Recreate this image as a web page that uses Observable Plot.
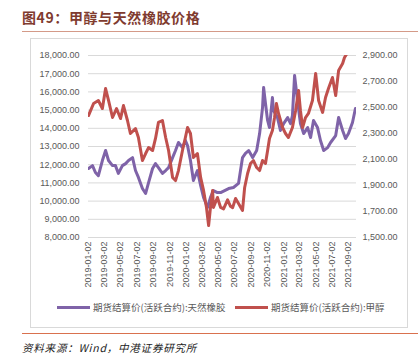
<!DOCTYPE html>
<html><head><meta charset="utf-8">
<script src="https://cdn.jsdelivr.net/npm/d3@7"></script>
<script src="https://cdn.jsdelivr.net/npm/@observablehq/plot@0.6"></script>
<style>
body{margin:0;background:#fff;}
#wrap{position:relative;width:420px;height:361px;overflow:hidden;font-family:"Liberation Sans",Arial,sans-serif;}
#title{position:absolute;left:22px;top:7px;font-weight:bold;font-size:14px;font-family:"Noto Sans CJK SC",sans-serif;color:#7F3B2F;letter-spacing:0.6px;white-space:nowrap;}
#tline{position:absolute;left:22px;top:31px;width:396px;height:0;border-top:1.5px solid #D49A88;}
#box{position:absolute;left:30px;top:38px;width:378px;height:290px;border:1px solid #D9D9D9;box-sizing:border-box;}
#chart{position:absolute;left:0;top:40px;}
#legend{position:absolute;left:0;top:299px;width:420px;height:16px;}
.item{position:absolute;top:0;height:16px;display:flex;align-items:center;white-space:nowrap;font-family:"Noto Sans CJK SC",sans-serif;font-size:9.5px;color:#595959;}
.sw{display:inline-block;width:33px;height:3px;margin-right:3px;}
#cline{position:absolute;left:22px;top:333px;width:396px;height:0;border-top:1.5px solid #D9714E;}
#caption{position:absolute;left:22px;top:340px;font-style:italic;font-size:10.5px;font-family:"Noto Sans CJK SC",sans-serif;color:#222;letter-spacing:0.8px;white-space:nowrap;}
</style>
</head><body>
<div id="wrap">
  <div id="title"></div>
  <div id="tline"></div>
  <div id="box"></div>
  <div id="chart"></div>
  <div id="legend"></div>
  <div id="cline"></div>
  <div id="caption"></div>
</div>
<script>
const titleText = "图49：甲醇与天然橡胶价格";
const captionText = "资料来源：Wind，中港证券研究所";
const seriesNames = ["期货结算价(活跃合约):天然橡胶", "期货结算价(活跃合约):甲醇"];
const seriesColors = ["#7F63A8", "#C0504D"];

const leftTicks = [8000, 9000, 10000, 11000, 12000, 13000, 14000, 15000, 16000, 17000, 18000];
const rightTicks = [1500, 1700, 1900, 2100, 2300, 2500, 2700, 2900];
const xTickLabels = ["2019-01-02","2019-03-02","2019-05-02","2019-07-02","2019-09-02","2019-11-02",
  "2020-01-02","2020-03-02","2020-05-02","2020-07-02","2020-09-02","2020-11-02",
  "2021-01-02","2021-03-02","2021-05-02","2021-07-02","2021-09-02"];

const rubberDates = ["2019-01-02","2019-01-17","2019-01-28","2019-02-08","2019-02-23","2019-03-07","2019-03-18","2019-04-02","2019-04-13","2019-04-24",
  "2019-05-09","2019-05-21","2019-06-01","2019-06-16","2019-06-27","2019-07-08","2019-07-23","2019-08-04","2019-08-15","2019-08-30",
  "2019-09-10","2019-09-21","2019-10-06","2019-10-18","2019-10-29","2019-11-13","2019-11-24","2019-12-05","2019-12-20","2019-12-31",
  "2020-01-08","2020-01-19","2020-01-30","2020-02-14","2020-02-26","2020-03-08","2020-03-23","2020-04-03","2020-04-14","2020-04-29",
  "2020-05-11","2020-05-26","2020-06-10","2020-06-28","2020-07-17","2020-08-01","2020-08-12","2020-08-24","2020-09-08","2020-09-23",
  "2020-10-04","2020-10-15","2020-10-19","2020-10-26","2020-11-03","2020-11-10","2020-11-21","2020-11-25","2020-12-10","2020-12-21",
  "2021-01-02","2021-01-17","2021-01-28","2021-02-04","2021-02-12","2021-02-23","2021-03-06","2021-03-18","2021-04-02","2021-04-13",
  "2021-04-24","2021-05-09","2021-05-20","2021-06-01","2021-06-16","2021-06-27","2021-07-16","2021-07-27","2021-08-11","2021-08-22",
  "2021-09-02","2021-09-17","2021-09-28"];
const rubberValues = [11790,11950,11570,11400,12230,12780,12230,11950,11950,11520,
  11950,12060,12230,12390,11680,11300,10690,10420,11020,11790,
  12060,11840,11520,11680,11840,12390,12780,13220,12940,13330,
  13050,12230,11130,11680,10860,10200,9650,10200,10580,10470,
  10470,10580,10690,10750,10970,12390,12620,12780,12390,12780,
  13710,15140,16240,15360,14430,14040,15690,14980,14590,13880,
  14260,14590,14260,14700,16900,15530,14260,13710,14040,13490,
  14430,14040,13330,12780,12940,13220,13600,14590,13880,13440,
  13710,14320,15090];

const methanolDates = ["2019-01-02","2019-01-21","2019-02-08","2019-02-23","2019-03-07","2019-03-18","2019-04-02","2019-04-17","2019-05-02","2019-05-13",
  "2019-05-28","2019-06-08","2019-06-27","2019-07-08","2019-07-23","2019-08-04","2019-08-15","2019-08-30","2019-09-10","2019-09-21",
  "2019-10-06","2019-10-18","2019-10-29","2019-11-13","2019-11-24","2019-12-05","2019-12-20","2019-12-31","2020-01-08","2020-01-19",
  "2020-01-30","2020-02-14","2020-02-26","2020-03-08","2020-03-19","2020-03-27","2020-04-03","2020-04-11","2020-04-14","2020-04-29",
  "2020-05-11","2020-05-22","2020-06-06","2020-06-17","2020-06-25","2020-07-06","2020-07-17","2020-08-01","2020-08-09","2020-08-20",
  "2020-08-31","2020-09-11","2020-09-23","2020-10-04","2020-10-15","2020-10-26","2020-11-03","2020-11-10","2020-11-21","2020-11-29",
  "2020-12-06","2020-12-14","2020-12-29","2021-01-09","2021-01-20","2021-02-04","2021-02-16","2021-02-27","2021-03-06","2021-03-14",
  "2021-03-25","2021-04-05","2021-04-20","2021-05-02","2021-05-13","2021-05-28","2021-06-08","2021-06-19","2021-07-04","2021-07-16",
  "2021-07-27","2021-08-11","2021-08-18","2021-08-29","2021-09-06","2021-09-15","2021-09-28"];
const methanolValues = [2438,2531,2554,2492,2646,2554,2423,2492,2415,2515,
  2400,2300,2338,2269,2092,2146,2192,2169,2262,2385,
  2400,2269,2169,1962,1938,2015,2169,2269,2346,2300,
  2115,2146,1962,1862,1731,1592,1731,1862,1731,1808,
  1731,1720,1790,1740,1730,1800,1762,1708,1885,1992,
  2069,2092,2038,2015,2092,2069,2169,2262,2323,2423,
  2531,2454,2346,2300,2269,2346,2477,2631,2477,2346,
  2423,2454,2554,2762,2554,2462,2577,2646,2731,2592,
  2785,2838,2885,2920,2990,3080,3250];

// dual-axis mapping: right axis [1500, 2900] shares the frame with left axis [8000, 18000]
const L0 = leftTicks[0], L1 = leftTicks[leftTicks.length - 1];
const R0 = rightTicks[0], R1 = rightTicks[rightTicks.length - 1];
const toLeft = v => L0 + (v - R0) * (L1 - L0) / (R1 - R0);
const fromLeft = v => R0 + (v - L0) * (R1 - R0) / (L1 - L0);

const rubber = rubberDates.map((d, i) => ({date: new Date(d), value: rubberValues[i]}));
const methanol = methanolDates.map((d, i) => ({date: new Date(d), value: methanolValues[i]}));
const fmt = d3.format(",.2f");

const chart = Plot.plot({
  width: 420, height: 250,
  marginTop: 15, marginBottom: 53, marginLeft: 88, marginRight: 64,
  style: {fontFamily: "'Liberation Sans', Arial, sans-serif", fontSize: "9px", color: "#595959", background: "transparent"},
  x: {type: "utc", domain: [new Date("2019-01-02"), new Date("2021-10-02")]},
  y: {domain: [L0, L1]},
  marks: [
    Plot.gridY(leftTicks, {stroke: "#D9D9D9", strokeOpacity: 1}),
    Plot.axisY({ticks: leftTicks, tickFormat: fmt, tickSize: 0, tickPadding: 9, anchor: "left", label: null}),
    Plot.axisY({ticks: rightTicks.map(toLeft), tickFormat: d => fmt(Math.round(fromLeft(d))), tickSize: 0, tickPadding: 6, anchor: "right", label: null}),
    Plot.axisX({ticks: xTickLabels.map(d => new Date(d)), tickFormat: d3.utcFormat("%Y-%m-%d"), tickRotate: -90, tickSize: 0, tickPadding: 4, label: null}),
    Plot.line(rubber, {x: "date", y: "value", stroke: seriesColors[0], strokeWidth: 3, clip: true}),
    Plot.line(methanol, {x: "date", y: d => toLeft(d.value), stroke: seriesColors[1], strokeWidth: 3, clip: true})
  ]
});
document.getElementById("chart").appendChild(chart);

document.getElementById("title").textContent = titleText;
document.getElementById("caption").textContent = captionText;
const legend = document.getElementById("legend");
const legendX = [57, 235];
seriesNames.forEach((name, i) => {
  const it = document.createElement("div");
  it.className = "item";
  it.style.left = legendX[i] + "px";
  const sw = document.createElement("span");
  sw.className = "sw";
  sw.style.background = seriesColors[i];
  it.appendChild(sw);
  it.appendChild(document.createTextNode(name));
  legend.appendChild(it);
});
</script>
</body></html>
